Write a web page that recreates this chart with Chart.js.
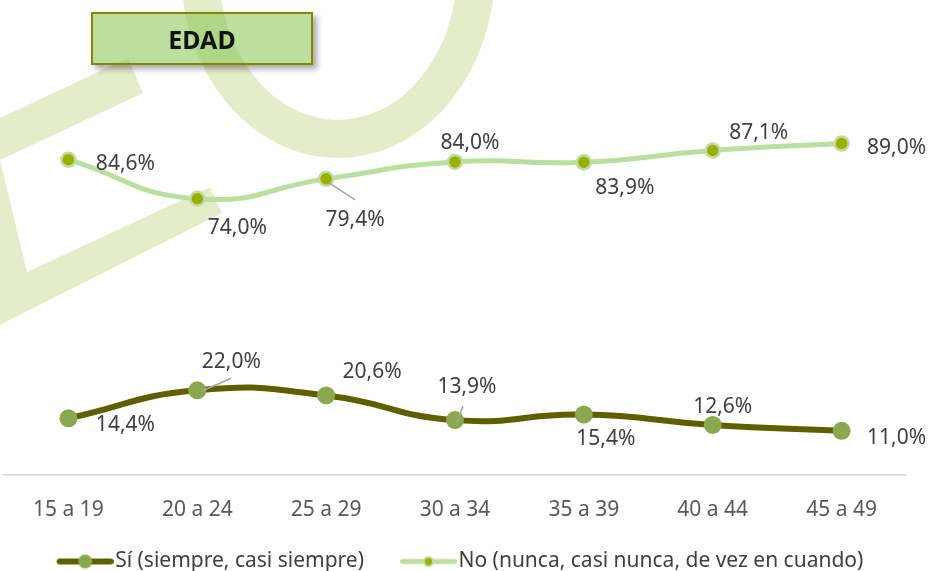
<!DOCTYPE html>
<html>
<head>
<meta charset="utf-8">
<script src="https://cdn.jsdelivr.net/npm/chart.js@4"></script>
<style>
  html, body { margin: 0; padding: 0; background: #ffffff; }
  #wrap { position: relative; width: 930px; height: 571px; overflow: hidden; }
  #c { position: absolute; left: 0; top: 0; }
  #title {
    position: absolute; left: 91px; top: 12px; width: 218px; height: 49px;
    border: 2px solid #868600;
    background: rgba(121, 191, 65, 0.5);
    box-shadow: 4px 4px 6px rgba(0, 0, 0, 0.35);
    font: bold 25px "Noto Sans", sans-serif; color: #111;
    display: flex; align-items: center; justify-content: center;
  }
</style>
</head>
<body>
<div id="wrap">
  <canvas id="c" width="930" height="571"></canvas>
  <div id="title">EDAD</div>
</div>
<script>
// ---- data ----
const categories = ['15 a 19', '20 a 24', '25 a 29', '30 a 34', '35 a 39', '40 a 44', '45 a 49'];
const siValues = [14.4, 22.0, 20.6, 13.9, 15.4, 12.6, 11.0];
const noValues = [84.6, 74.0, 79.4, 84.0, 83.9, 87.1, 89.0];
const seriesNames = ['Sí (siempre, casi siempre)', 'No (nunca, casi nunca, de vez en cuando)'];

// ---- label placement (style, relative to each point) ----
const siLabelOffsets = [[57, 7], [34, -28], [46, -23], [12, -33], [22, 24], [10, -18], [55, 7]];
const noLabelOffsets = [[57, 4], [40, 29], [29, 41], [15, -19], [41, 26], [46, -17], [55, 5]];
const siLeaders = { 1: [4, 1, 34, -12], 3: [2, 2, 8, -14] };
const noLeaders = { 2: [3, 4, 29, 21] };

const FONT = '"Noto Sans", sans-serif';
const fmt = v => v.toFixed(1).replace('.', ',') + '%';

function legendIcon(lineColor, lineW, fill, border, borderW, r) {
  const c = document.createElement('canvas');
  c.width = 76; c.height = 20;
  const g = c.getContext('2d');
  g.strokeStyle = lineColor; g.lineWidth = lineW; g.lineCap = 'round';
  g.beginPath(); g.moveTo(19 + lineW / 2, 10); g.lineTo(76 - lineW / 2, 10); g.stroke();
  g.beginPath(); g.arc(47.5, 10, r, 0, Math.PI * 2);
  g.fillStyle = fill; g.fill();
  if (borderW) { g.lineWidth = borderW; g.strokeStyle = border; g.stroke(); }
  return c;
}
const siIcon = legendIcon('#5f5e00', 6, '#8aa84f', null, 0, 7);
const noIcon = legendIcon('#bbdf9f', 5, '#9ab000', '#c0dca0', 2, 4.5);

const watermark = {
  id: 'watermark',
  beforeDraw(chart) {
    const ctx = chart.ctx;
    ctx.save();
    ctx.fillStyle = '#e5ecc9';
    const poly = [[-60, 146], [128, 58], [143, 93], [0, 160], [27, 272], [210, 187], [222, 213], [-60, 355]];
    ctx.beginPath();
    poly.forEach((p, i) => i ? ctx.lineTo(p[0], p[1]) : ctx.moveTo(p[0], p[1]));
    ctx.closePath();
    ctx.fill();
    ctx.beginPath();
    ctx.ellipse(338, -30, 157, 188, 0, 0, Math.PI * 2);
    ctx.moveTo(338 + 119, -30);
    ctx.ellipse(338, -30, 119, 150, 0, 0, Math.PI * 2);
    ctx.fill('evenodd');
    ctx.restore();
  }
};

const valueLabels = {
  id: 'valueLabels',
  afterDatasetsDraw(chart) {
    const ctx = chart.ctx;
    const sets = [
      { values: siValues, offs: siLabelOffsets, leaders: siLeaders },
      { values: noValues, offs: noLabelOffsets, leaders: noLeaders }
    ];
    sets.forEach((s, di) => {
      const meta = chart.getDatasetMeta(di);
      meta.data.forEach((pt, i) => {
        const ld = s.leaders[i];
        ctx.save();
        if (ld) {
          ctx.strokeStyle = '#a6a6a6'; ctx.lineWidth = 1.5;
          ctx.beginPath();
          ctx.moveTo(pt.x + ld[0], pt.y + ld[1]);
          ctx.lineTo(pt.x + ld[2], pt.y + ld[3]);
          ctx.stroke();
        }
        ctx.font = '21px ' + FONT;
        ctx.fillStyle = '#404040';
        ctx.textAlign = 'center';
        ctx.textBaseline = 'middle';
        ctx.fillText(fmt(s.values[i]), pt.x + s.offs[i][0], pt.y + s.offs[i][1]);
        ctx.restore();
      });
    });
  }
};

new Chart(document.getElementById('c'), {
  type: 'line',
  data: {
    labels: categories,
    datasets: [
      {
        label: seriesNames[0], data: siValues,
        borderColor: '#5f5e00', borderWidth: 6,
        pointRadius: 9, pointBackgroundColor: '#8aa84f', pointBorderColor: '#8aa84f', pointBorderWidth: 0,
        tension: 0.5, clip: false
      },
      {
        label: seriesNames[1], data: noValues,
        borderColor: '#bbdf9f', borderWidth: 5,
        pointRadius: 7, pointBackgroundColor: '#9ab000', pointBorderColor: '#c0dca0', pointBorderWidth: 2.5,
        tension: 0.5, clip: false
      }
    ]
  },
  options: {
    responsive: false,
    devicePixelRatio: 1,
    animation: false,
    layout: { autoPadding: false, padding: { top: 103, left: 4, right: 24, bottom: -11 } },
    scales: {
      x: {
        offset: true,
        grid: { display: false, drawTicks: false, offset: true },
        border: { display: true, color: '#d9d9d9', width: 1.5 },
        ticks: { padding: 22, color: '#595959', font: { family: FONT, size: 21 } },
        afterFit(s) { s.height = 50; s.paddingLeft = 0; s.paddingRight = 0; }
      },
      y: { display: false, min: -1, max: 100 }
    },
    plugins: {
      tooltip: { enabled: false },
      legend: {
        position: 'bottom',
        labels: {
          usePointStyle: true,
          pointStyleWidth: 58,
          padding: 26,
          color: '#404040',
          font: { family: FONT, size: 21 },
          generateLabels(chart) {
            const items = Chart.defaults.plugins.legend.labels.generateLabels(chart);
            items.forEach((it, i) => { it.pointStyle = i === 0 ? siIcon : noIcon; });
            return items;
          }
        }
      }
    }
  },
  plugins: [watermark, valueLabels]
});
</script>
</body>
</html>
